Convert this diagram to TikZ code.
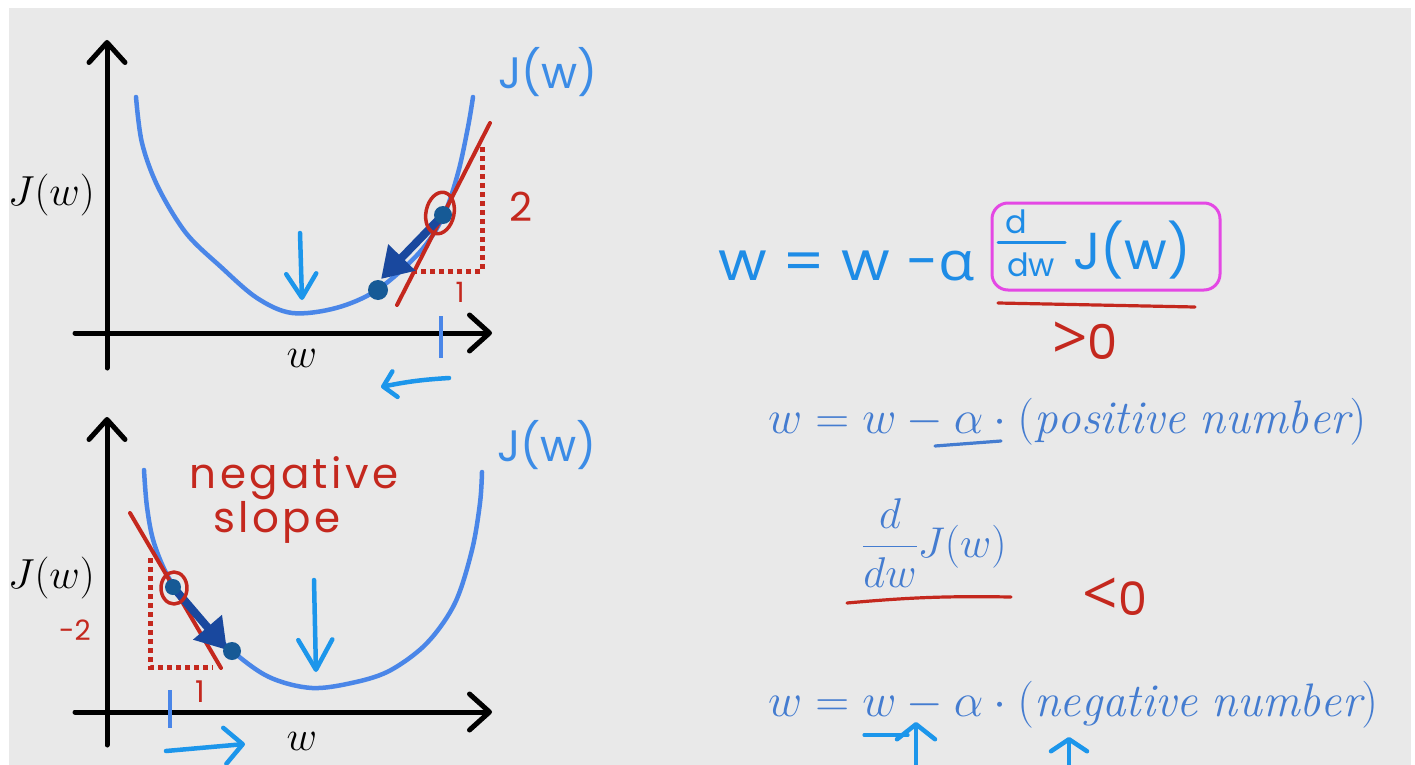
\RequirePackage{fix-cm}
\documentclass[tikz,border=0pt]{standalone}
\usepackage{fontspec}
\usepackage{amsmath}
\usetikzlibrary{arrows.meta}
\newfontfamily\hand{Poppins}
\newfontfamily\handg{Open Sans}
\definecolor{bg}{RGB}{233,233,233}
\definecolor{curveblue}{RGB}{74,134,232}
\definecolor{lightblue}{RGB}{28,150,235}
\definecolor{jblue}{RGB}{60,140,230}
\definecolor{eqblue}{RGB}{68,124,208}
\definecolor{hred}{RGB}{196,40,30}
\definecolor{magenta2}{RGB}{228,72,228}
\definecolor{darkblue}{RGB}{25,72,158}
\definecolor{dotblue}{RGB}{22,90,150}
\definecolor{handblue}{RGB}{30,140,230}
\tikzset{
  axis/.style={line width=5pt, black, -{Straight Barb[length=20pt,width=36pt,round]}},
  curve/.style={line width=4.5pt, curveblue},
  tangent/.style={line width=4pt, hred},
  reddot/.style={line width=5pt, hred, line cap=butt, line join=miter, dash pattern=on 5pt off 4pt},
  darkarrow/.style={line width=8pt, darkblue, line cap=butt, -{Triangle[length=30pt,width=36pt]}},
  lbarrow/.style={line width=4.5pt, lightblue},
  tick/.style={line width=4pt, curveblue, line cap=butt},
  serif/.style={inner sep=0pt, text=black, font=\fontsize{42}{48}\selectfont},
  eq/.style={inner sep=0pt, text=eqblue, font=\fontsize{47}{52}\selectfont},
  handtxt/.style={inner sep=0pt, font=\hand\fontsize{40}{44}\selectfont},
  redtxt/.style={handtxt, text=hred},
  hstroke/.style={line width=3.2pt},
}
\newcommand{\bigsym}[1]{{\handg\fontsize{62}{62}\selectfont #1}}
\begin{document}
\begin{tikzpicture}[x=1pt,y=-1pt, line cap=round, line join=round]
\useasboundingbox (0,0) rectangle (1415,765);
\fill[white] (0,0) rectangle (1415,765);
\fill[bg] (9,8) rectangle (1411,765);

% ================= TOP GRAPH =================
\coordinate (yb1) at (107,368);
\coordinate (yt1) at (107,40);
\coordinate (xl1) at (75,333);
\coordinate (xr1) at (492,333);
\draw[axis] (yb1) -- (yt1);
\draw[axis] (xl1) -- (xr1);

\draw[curve] plot[smooth, tension=0.55] coordinates {(136,97) (142,143) (158,187) (186,233) (221,267) (257,298) (292,313) (336,308) (377,290) (419,253) (443,217) (458,173) (468,127) (473,97)};

\coordinate (t1a) at (397,305);
\coordinate (t1b) at (490,123);
\draw[tangent] (t1a) -- (t1b);

\coordinate (d1a) at (482,147);
\coordinate (d1c) at (482,271);
\coordinate (d1b) at (415,271);
\draw[reddot] (d1a) -- (d1c) -- (d1b);

\coordinate (p1) at (443,215);
\coordinate (tip1) at (381,279);
\coordinate (q1) at (378,290);
\draw[darkarrow] (p1) -- (tip1);
\fill[dotblue] (p1) circle (9);
\fill[dotblue] (q1) circle (10);
\draw[hred, line width=3.5pt, rotate around={-12:(440,213)}] (440,213) ellipse [x radius=14, y radius=21];

\node[redtxt] (two) at (521,207) {2};
\node[redtxt, font=\hand\fontsize{28}{30}\selectfont] (one1) at (460,292) {1};

\coordinate (tk1a) at (441,316);
\coordinate (tk1b) at (441,358);
\draw[tick] (tk1a) -- (tk1b);

\coordinate (la1) at (449,378);
\coordinate (la2) at (381,387);
\draw[lbarrow, -{Straight Barb[length=12pt,width=26pt,round]}] (la1) to[bend right=4] (la2);

\coordinate (da1) at (300,233);
\coordinate (da2) at (302,300);
\draw[lbarrow, -{Straight Barb[length=24pt,width=30pt,round]}] (da1) -- (da2);

\node[handtxt, text=jblue, font=\hand\fontsize{44}{48}\selectfont] (jt) at (548,72) {J(w)};
\node[serif, anchor=east] (jl1) at (95,195) {$J(w)$};
\node[serif] (w1) at (302,358) {$w$};

% ================= BOTTOM GRAPH =================
\coordinate (yb2) at (107,745);
\coordinate (yt2) at (107,417);
\coordinate (xl2) at (75,712);
\coordinate (xr2) at (492,712);
\draw[axis] (yb2) -- (yt2);
\draw[axis] (xl2) -- (xr2);

\draw[curve] plot[smooth, tension=0.55] coordinates {(144,470) (147,507) (154,543) (170,580) (198,617) (231,650) (269,677) (312,688) (356,682) (391,670) (427,643) (455,603) (472,550) (480,503) (482,472)};

\coordinate (t2a) at (130,513);
\coordinate (t2b) at (221,668);
\draw[tangent] (t2a) -- (t2b);

\coordinate (d2a) at (150,558);
\coordinate (d2c) at (150,667);
\coordinate (d2b) at (213,667);
\draw[reddot] (d2a) -- (d2c) -- (d2b);

\coordinate (p2) at (173,587);
\coordinate (tip2) at (227,650);
\coordinate (q2) at (232,651);
\draw[darkarrow] (p2) -- (tip2);
\fill[dotblue] (p2) circle (8);
\fill[dotblue] (q2) circle (9);
\draw[hred, line width=3.5pt] (174,588) ellipse [x radius=13, y radius=16];

\node[redtxt, font=\hand\fontsize{28}{30}\selectfont] (mtwo) at (75,630) {-2};
\node[redtxt, font=\hand\fontsize{30}{32}\selectfont] (one2) at (200,692) {1};

\coordinate (tk2a) at (170,690);
\coordinate (tk2b) at (170,728);
\draw[tick] (tk2a) -- (tk2b);

\coordinate (ra1) at (166,751);
\coordinate (ra2) at (245,744);
\draw[lbarrow, -{Straight Barb[length=18pt,width=36pt,round]}] (ra1) -- (ra2);

\coordinate (db1) at (314,580);
\coordinate (db2) at (316,672);
\draw[lbarrow, -{Straight Barb[length=30pt,width=34pt,round]}] (db1) -- (db2);

\node[handtxt, text=jblue, font=\hand\fontsize{44}{48}\selectfont] (jb) at (547,445) {J(w)};
\node[redtxt, font=\hand\fontsize{42}{44}\selectfont\addfontfeature{LetterSpace=8}] (neg) at (294,478) {negative};
\node[redtxt, font=\hand\fontsize{42}{44}\selectfont\addfontfeature{LetterSpace=8}] (slope) at (277,522) {slope};
\node[serif, anchor=east] (jl2) at (95,578) {$J(w)$};
\node[serif] (w2) at (302,741) {$w$};

% ================= RIGHT SIDE =================
\node[handtxt, text=handblue, font=\hand\fontsize{54}{58}\selectfont, anchor=west] (heq) at (718,266) {\scalebox{1.1}[1]{w = w -{\handg α}}};

\draw[magenta2, line width=3pt, rounded corners=16pt] (992,203) rectangle (1220,290);
\node[handtxt, text=handblue, font=\hand\fontsize{32}{34}\selectfont] (dnum) at (1016,222) {d};
\coordinate (fb1) at (998,242);
\coordinate (fb2) at (1065,242);
\draw[handblue, line width=3pt] (fb1) -- (fb2);
\node[handtxt, text=handblue, font=\hand\fontsize{32}{34}\selectfont] (dden) at (1031,265) {dw};
\node[handtxt, text=handblue, font=\hand\fontsize{52}{58}\selectfont] (jbox) at (1132,250) {J(w)};

\coordinate (u1a) at (998,303);
\coordinate (u1b) at (1195,307);
\draw[hred, hstroke] (u1a) -- (u1b);
\node[redtxt, font=\hand\fontsize{48}{50}\selectfont] (gt) at (1085,341) {\bigsym{>}0};

\node[eq, anchor=west] (eq1) at (768,422) {$w = w - \alpha\cdot(\mathit{positive\ number})$};
\coordinate (u2a) at (935,446);
\coordinate (u2b) at (1001,441);
\draw[eqblue, hstroke] (u2a) -- (u2b);

\node[eq, anchor=west, font=\fontsize{43}{48}\selectfont] (frac) at (862,543) {$\dfrac{d}{dw}J(w)$};
\coordinate (u3a) at (847,603);
\coordinate (u3b) at (1011,597);
\draw[hred, hstroke] (u3a) to[bend left=3] (u3b);
\node[redtxt, font=\hand\fontsize{46}{50}\selectfont] (lt) at (1115,597) {\bigsym{<}0};

\node[eq, anchor=west] (eq3) at (768,705) {$w = w - \alpha\cdot(\mathit{negative\ number})$};
\coordinate (u4a) at (864,735);
\coordinate (u4b) at (908,735);
\draw[lightblue, hstroke] (u4a) -- (u4b);
\coordinate (ua1) at (916,766);
\coordinate (ua2) at (916,722);
\draw[lbarrow, -{Straight Barb[length=15pt,width=38pt,round]}] (ua1) -- (ua2);
\coordinate (ub1) at (1069,766);
\coordinate (ub2) at (1069,737);
\draw[lbarrow, -{Straight Barb[length=12pt,width=36pt,round]}] (ub1) -- (ub2);
\end{tikzpicture}
\end{document}
